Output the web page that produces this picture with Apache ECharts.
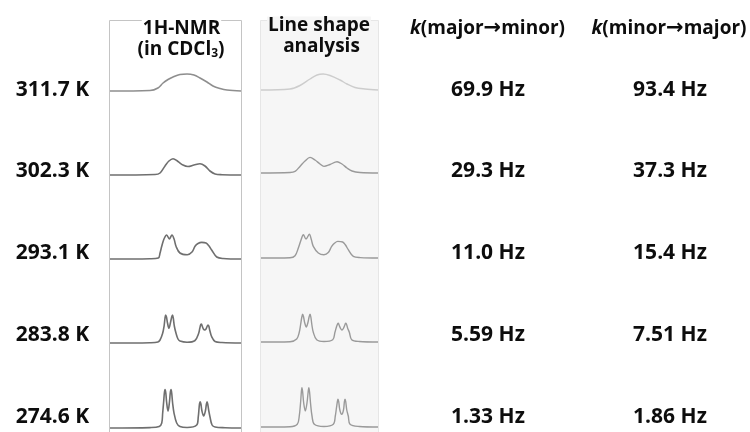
<!DOCTYPE html>
<html>
<head>
<meta charset="utf-8">
<script src="https://cdn.jsdelivr.net/npm/echarts@6/dist/echarts.min.js"></script>
<style>
  html, body { margin: 0; padding: 0; background: #ffffff; }
  #chart { width: 750px; height: 432px; }
</style>
</head>
<body>
<div id="chart"></div>
<script>
// Temperatures and fitted exchange rate constants
const temperatures = ['311.7 K', '302.3 K', '293.1 K', '283.8 K', '274.6 K'];
const kMajorToMinor = ['69.9 Hz', '29.3 Hz', '11.0 Hz', '5.59 Hz', '1.33 Hz'];
const kMinorToMajor = ['93.4 Hz', '37.3 Hz', '15.4 Hz', '7.51 Hz', '1.86 Hz'];

// Measured 1H-NMR traces: [relative shift position (0-100), intensity]
const nmr311 = [[0,0],[30.5,0.5],[36.6,3],[40.5,8],[44.3,11.5],[48.1,14],[53.4,16.5],[58.8,17],[64.1,16],[68.7,13],[74.0,9],[78.6,5],[84.0,2.5],[89.3,1],[100,0]];
const nmr302 = [[0,0],[34.4,0.5],[38.2,2],[42.0,9],[45.0,14],[48.1,16.3],[51.9,13.5],[55.7,10],[59.5,8.5],[64.1,10],[68.7,11.3],[72.5,9],[76.3,4],[80.2,1],[85.5,0.3],[100,0]];
const nmr293 = [[0,0],[30.5,0.3],[36.9,1],[38.2,6],[39.5,12.7],[41.2,20],[43.3,24],[45.3,20],[47.3,24],[48.9,20],[50.4,12.7],[53.4,6],[59.0,4.3],[62.6,7],[64.9,12.7],[67.2,15.5],[70.0,16.6],[73.3,16],[75.6,13],[77.6,9],[81.5,2],[86.3,0.5],[100,0]];
const nmr284 = [[0,0],[30.5,0.3],[36.6,1],[38.2,3],[40.2,9.7],[41.3,17],[42.0,25],[42.5,28],[43.1,26],[43.9,20],[45.0,14.7],[46.1,20],[47.1,26],[47.7,28],[48.3,25],[49.1,17],[50.4,9.7],[51.9,4],[53.4,2],[58.8,0.8],[64.9,2.5],[67.7,9.7],[68.6,15],[69.3,18.5],[69.8,19],[70.5,16.5],[71.3,14],[72.3,13],[73.3,14],[74.1,16.5],[74.8,18],[75.4,17],[76.2,12.5],[77.6,6.3],[80.2,1.5],[85.5,0.5],[100,0]];
const nmr275 = [[0,0],[30.5,0.4],[37.6,1.5],[39.5,5],[40.2,14.7],[41.0,27],[41.5,35],[42.0,38.4],[42.6,35],[43.2,26],[44.3,17],[45.4,26],[46.0,35],[46.6,38.4],[47.1,35],[47.8,25],[48.9,14.7],[50.9,5],[53.4,1.5],[58.8,0.5],[66.2,3],[67.4,11.3],[68.0,20],[68.4,24.5],[68.9,26.3],[69.4,24],[70.2,17],[71.5,12],[72.8,17],[73.6,24],[74.1,26.3],[74.6,24],[75.3,18],[76.3,11.3],[77.9,3],[80.2,1],[87.8,0.3],[100,0]];

// Simulated line shapes from the exchange fit
const fit311 = [[0,0],[24.8,1],[33.3,4.5],[41.9,11],[47.9,15],[53.0,16],[59.0,14.5],[67.5,10],[73.5,6],[80.3,2.5],[88.9,1],[100,0]];
const fit302 = [[0,0],[24.8,0.5],[29.1,1.6],[33.3,6.6],[37.6,12],[41.9,15.6],[46.2,13],[50.4,9],[53.8,6.6],[59.0,8.5],[65.0,11.3],[69.2,9],[73.5,5],[77.8,2],[84.6,0.5],[100,0]];
const fit293 = [[0,0],[24.8,0.3],[29.1,2.3],[31.9,10],[34.2,18],[36.2,23.3],[38.5,19],[41.3,23.7],[43.0,18.5],[44.7,11.6],[49.0,5],[53.8,3.3],[57.5,5.5],[60.4,11.6],[63.0,15],[65.6,16.6],[69.8,16],[72.2,13],[74.6,8.3],[78.9,1.6],[85.0,0.4],[100,0]];
const fit284 = [[0,0],[24.8,0.3],[30.5,3],[32.7,9.7],[33.8,17],[34.9,25],[35.6,27.7],[36.4,25],[37.4,19],[38.7,15],[40.0,19],[41.1,25],[41.9,27.7],[42.6,25],[43.5,17],[44.7,9.7],[47.6,2.3],[53.8,0.5],[61.3,2.3],[63.2,9.7],[64.6,15.5],[65.5,18.2],[66.1,18.7],[66.9,16.5],[68.0,13.5],[69.2,12],[70.4,13.5],[71.5,16.5],[72.3,18.7],[73.0,18],[74.0,14],[75.5,9.7],[77.5,2.3],[84.0,0.5],[100,0]];
const fit275 = [[0,0],[24.8,0.3],[31.0,2.7],[32.7,11],[33.8,24],[34.5,35],[35.0,39.4],[35.6,35],[36.5,24],[37.9,16],[39.3,24],[40.3,35],[40.9,39.4],[41.5,35],[42.4,23],[43.6,11],[45.6,2.7],[53.8,0.5],[61.8,2.7],[63.5,11],[64.6,20],[65.3,25.5],[65.8,27.7],[66.4,25.5],[67.4,17],[69.0,12.7],[70.5,17],[71.3,25.5],[71.8,27.7],[72.4,25.5],[73.3,17],[74.6,11],[76.1,2.7],[84.0,0.5],[100,0]];

const nmrSpectra = [nmr311, nmr302, nmr293, nmr284, nmr275];
const fitSpectra = [fit311, fit302, fit293, fit284, fit275];

// Layout of the two spectrum columns
const panels = [
  { left: 110, width: 131, baselines: [91, 175, 259, 343, 428], lineWidth: 1.6, colors: ['#8e8e8e', '#6f6f6f', '#6f6f6f', '#6f6f6f', '#6f6f6f'], spectra: nmrSpectra },
  { left: 261, width: 117, baselines: [90, 173, 258, 342, 427], lineWidth: 1.4, colors: ['#cdcdcd', '#9a9a9a', '#9a9a9a', '#9a9a9a', '#9a9a9a'], spectra: fitSpectra }
];
const rowHeight = 45;
const rowTextY = [90.5, 171.5, 253, 335, 417.5];

const FONT = '"Open Sans", "DejaVu Sans", sans-serif';
const ARROW_FONT = '"DejaVu Sans", sans-serif';

const grids = [], xAxes = [], yAxes = [], series = [];
panels.forEach(function (p) {
  p.spectra.forEach(function (data, r) {
    const idx = grids.length;
    grids.push({ left: p.left, width: p.width, top: p.baselines[r] - rowHeight, height: rowHeight, containLabel: false });
    xAxes.push({ type: 'value', gridIndex: idx, min: 0, max: 100, show: false });
    yAxes.push({ type: 'value', gridIndex: idx, min: 0, max: rowHeight, show: false });
    series.push({
      type: 'line', xAxisIndex: idx, yAxisIndex: idx, data: data,
      smooth: 0.35, showSymbol: false, silent: true, clip: false,
      lineStyle: { color: p.colors[r], width: p.lineWidth }
    });
  });
});

function textStyle(text, size, extra) {
  return Object.assign({
    text: text, fill: '#0d0d0d', fontSize: size, fontWeight: 'bold', fontFamily: FONT,
    textAlign: 'center', textVerticalAlign: 'middle'
  }, extra || {});
}
function label(x, y, text, size, extra) {
  return { type: 'text', x: x, y: y, z: 100, silent: true, style: textStyle(text, size, extra) };
}

const richK = {
  i: { fontStyle: 'italic', fontSize: 19, fontWeight: 'bold', fontFamily: FONT, fill: '#0d0d0d' },
  a: { fontSize: 21, fontWeight: 'bold', fontFamily: ARROW_FONT, fill: '#0d0d0d' }
};

const graphics = [
  // Column frames
  { type: 'rect', z: -10, silent: true, shape: { x: 109.5, y: 20.5, width: 132, height: 430 }, style: { fill: '#ffffff', stroke: '#c4c4c4', lineWidth: 1 } },
  { type: 'rect', z: -10, silent: true, shape: { x: 260.5, y: 20.5, width: 118, height: 430 }, style: { fill: '#f6f6f6', stroke: '#e6e6e6', lineWidth: 1 } },
  // Column headings
  label(181.5, 28.5, '1H-NMR', 19, { backgroundColor: '#ffffff', padding: [0, 1] }),
  label(181, 49.5, '(in CDCl{s|3})', 19, { rich: { s: { fontSize: 12, fontWeight: 'bold', fontFamily: FONT, fill: '#0d0d0d', padding: [9, 0, 0, 0] } } }),
  label(319, 26, 'Line shape', 19, { backgroundColor: '#f6f6f6', padding: [0, 1] }),
  label(321.5, 46.5, 'analysis', 19),
  label(487.5, 28.5, '{i|k}(major{a|→}minor)', 19, { rich: richK }),
  label(669, 28.5, '{i|k}(minor{a|→}major)', 19, { rich: richK })
];

temperatures.forEach(function (t, r) { graphics.push(label(52.5, rowTextY[r], t, 21)); });
kMajorToMinor.forEach(function (k, r) { graphics.push(label(488, rowTextY[r], k, 21)); });
kMinorToMajor.forEach(function (k, r) { graphics.push(label(670, rowTextY[r], k, 21)); });

const chart = echarts.init(document.getElementById('chart'), null, { renderer: 'canvas' });
chart.setOption({
  animation: false,
  backgroundColor: '#ffffff',
  grid: grids,
  xAxis: xAxes,
  yAxis: yAxes,
  series: series,
  graphic: { elements: graphics }
});
</script>
</body>
</html>
